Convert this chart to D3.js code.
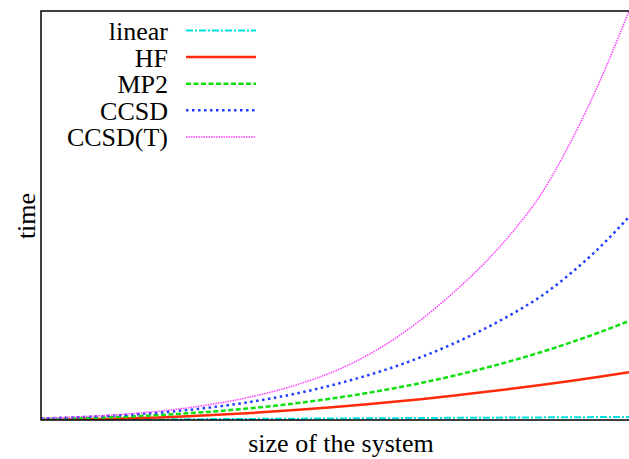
<!DOCTYPE html>
<html>
<head>
<meta charset="utf-8">
<script src="https://cdn.jsdelivr.net/npm/d3@7"></script>
<style>
  body { margin: 0; background: #fff; }
</style>
</head>
<body>
<div id="my_dataviz"></div>
<script>
// size of the system (arbitrary units) and time for every method
const sizes  = [0, 0.5, 1, 1.5, 2, 2.5, 3, 3.5, 4, 4.5, 5, 5.5, 6, 6.5, 7, 7.5, 8, 8.5, 9, 9.5, 10];
const linear = [0, 0.04, 0.08, 0.11, 0.15, 0.19, 0.23, 0.26, 0.3, 0.34, 0.38, 0.41, 0.45, 0.49, 0.53, 0.56, 0.6, 0.64, 0.68, 0.71, 0.75];
const hf     = [0.02, 0.10, 0.22, 0.40, 0.63, 0.92, 1.26, 1.66, 2.11, 2.61, 3.17, 3.78, 4.44, 5.16, 5.93, 6.76, 7.63, 8.57, 9.55, 10.59, 11.69];
const mp2    = [0.22, 0.38, 0.58, 0.86, 1.21, 1.64, 2.16, 2.79, 3.52, 4.38, 5.36, 6.48, 7.75, 9.17, 10.75, 12.51, 14.45, 16.58, 18.91, 21.45, 24.21];
const ccsd   = [0.38, 0.60, 0.90, 1.29, 1.81, 2.46, 3.28, 4.28, 5.50, 6.96, 8.70, 10.69, 12.96, 15.58, 18.58, 21.99, 25.84, 30.22, 35.75, 42.18, 49.66];
const ccsdT  = [0.44, 0.68, 1.02, 1.50, 2.14, 2.98, 4.06, 5.45, 7.16, 9.32, 11.96, 15.43, 19.73, 24.94, 30.98, 37.75, 45.65, 55.11, 67.78, 82.69, 100];

const names = ["linear", "HF", "MP2", "CCSD", "CCSD(T)"];
const values = [linear, hf, mp2, ccsd, ccsdT];

// styles of the lines
const colors = ["#00e0e0", "#ff2a0a", "#10e010", "#1f3fff", "#ff40ff"];
const dashes = ["7,2,2,2", null, "5,2.5", "2.5,3.5", "1.5,1"];
const widths = [2, 2.5, 2.5, 2.5, 1.5];

const fontFam = "'Liberation Serif', 'Times New Roman', Times, 'Nimbus Roman', 'Nimbus Roman No9 L', FreeSerif, Tinos, 'DejaVu Serif', 'Noto Serif', serif";

const width = 629, height = 459;
const margin = {top: 11, left: 41, bottom: 39};
const plotRight = 641; // the frame goes on past the window

const svg = d3.select("#my_dataviz")
  .append("svg")
  .attr("width", width)
  .attr("height", height)
  .style("font-family", fontFam);

const x = d3.scaleLinear()
  .domain([0, 10])
  .range([margin.left, 629]);

const y = d3.scaleLinear()
  .domain([0, 100])
  .range([height - margin.bottom, margin.top]);

svg.append("clipPath").attr("id", "clip")
  .append("rect")
  .attr("x", margin.left)
  .attr("y", margin.top)
  .attr("width", plotRight - margin.left)
  .attr("height", y(0) - margin.top);

const line = d3.line()
  .x((d, i) => x(sizes[i]))
  .y(d => y(d))
  .curve(d3.curveMonotoneX);

// curves
const curves = svg.append("g").attr("clip-path", "url(#clip)");
values.forEach((serie, i) => {
  curves.append("path")
    .datum(serie)
    .attr("d", line)
    .attr("fill", "none")
    .attr("stroke", colors[i])
    .attr("stroke-width", widths[i])
    .attr("stroke-dasharray", dashes[i]);
});

// frame (no ticks)
svg.append("path")
  .attr("d", `M${plotRight},${margin.top}H${margin.left}V${y(0)}H${plotRight}`)
  .attr("stroke", "#000")
  .attr("stroke-width", 1.5)
  .attr("fill", "none");

// axis labels
svg.append("text")
  .attr("x", 341)
  .attr("y", 452)
  .attr("text-anchor", "middle")
  .style("font-family", fontFam)
  .attr("font-size", 26)
  .text("size of the system");

svg.append("text")
  .attr("transform", "translate(35,216) rotate(-90)")
  .attr("text-anchor", "middle")
  .style("font-family", fontFam)
  .attr("font-size", 26)
  .text("time");

// legend
const legend = svg.append("g");
names.forEach((name, i) => {
  const base = 40 + i * 26.6;
  legend.append("text")
    .attr("x", 168)
    .attr("y", base)
    .attr("text-anchor", "end")
    .style("font-family", fontFam)
    .attr("font-size", 26)
    .text(name);
  legend.append("line")
    .attr("x1", 186)
    .attr("x2", 256)
    .attr("y1", base - 9.5)
    .attr("y2", base - 9.5)
    .attr("stroke", colors[i])
    .attr("stroke-width", widths[i])
    .attr("stroke-dasharray", dashes[i]);
});
</script>
</body>
</html>
